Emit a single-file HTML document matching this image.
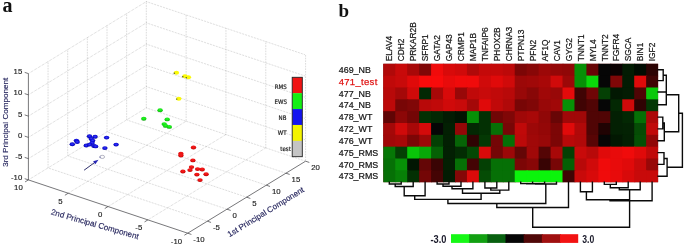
<!DOCTYPE html>
<html lang="en"><head><meta charset="utf-8"><title>Figure</title><style>
html,body{margin:0;padding:0;background:#fff;}
body{width:685px;height:246px;overflow:hidden;}
svg{display:block;}
text{font-family:"Liberation Sans",sans-serif;}
.g{stroke:#989898;stroke-width:0.58;stroke-dasharray:0.6 1.0;fill:none;}
.ax{stroke:#4a4a4e;stroke-width:0.75;fill:none;}
.tl text{font-size:7.8px;fill:#1c1c1c;stroke:#1c1c1c;stroke-width:0.15;}
.al{font-size:8.1px;fill:#26265e;stroke:#26265e;stroke-width:0.15;}
.db{fill:url(#gb);}
.dy{fill:#fafa08;}
.dg{fill:url(#gg);}
.dr{fill:url(#gr);}
.dt{fill:#fdfdfd;stroke:#9a9aac;stroke-width:0.7;}
.arr{stroke:#30306c;stroke-width:1.0;}
.arrh{fill:#2626b4;}
.lg{font-family:"DejaVu Sans Condensed","DejaVu Sans","Liberation Sans",sans-serif;font-stretch:condensed;font-size:6.1px;fill:#222;stroke:#222;stroke-width:0.18;}
.pl{font-family:"Liberation Serif",serif;font-weight:bold;font-size:19px;fill:#111;}
.cl{font-size:8.4px;fill:#161616;stroke:#161616;stroke-width:0.22;}
.rl{font-size:8.9px;fill:#161616;stroke:#161616;stroke-width:0.22;}
.rt{font-size:9.5px;letter-spacing:0.31px;fill:#e01414;stroke:#e01414;stroke-width:0.25;}
.den{stroke:#0a0a0a;stroke-width:1.4;fill:none;stroke-linecap:square;}
.sl{font-size:10.6px;font-weight:bold;fill:#1a1a2a;}
</style></head><body>
<svg width="685" height="246" viewBox="0 0 685 246">
<rect width="685" height="246" fill="#fff"/>
<defs><radialGradient id="gb" cx="0.5" cy="0.45" r="0.6"><stop offset="0" stop-color="#3a3af4"/><stop offset="0.55" stop-color="#1010e0"/><stop offset="1" stop-color="#000088"/></radialGradient><radialGradient id="gr" cx="0.5" cy="0.35" r="0.7"><stop offset="0" stop-color="#f42020"/><stop offset="0.6" stop-color="#e60c0c"/><stop offset="1" stop-color="#9c0606"/></radialGradient><radialGradient id="gg" cx="0.5" cy="0.35" r="0.7"><stop offset="0" stop-color="#2cf42c"/><stop offset="0.6" stop-color="#10e010"/><stop offset="1" stop-color="#0a8a0a"/></radialGradient></defs>
<g id="panel-a">
<g class="grid">
<line x1="48.05" y1="167.90" x2="48.05" y2="61.60" class="g"/>
<line x1="67.70" y1="155.90" x2="67.70" y2="49.60" class="g"/>
<line x1="87.35" y1="143.90" x2="87.35" y2="37.60" class="g"/>
<line x1="107.00" y1="131.90" x2="107.00" y2="25.60" class="g"/>
<line x1="126.65" y1="119.90" x2="126.65" y2="13.60" class="g"/>
<line x1="146.30" y1="107.90" x2="146.30" y2="1.60" class="g"/>
<line x1="28.40" y1="179.90" x2="146.30" y2="107.90" class="g"/>
<line x1="28.40" y1="158.64" x2="146.30" y2="86.64" class="g"/>
<line x1="28.40" y1="137.38" x2="146.30" y2="65.38" class="g"/>
<line x1="28.40" y1="116.12" x2="146.30" y2="44.12" class="g"/>
<line x1="28.40" y1="94.86" x2="146.30" y2="22.86" class="g"/>
<line x1="28.40" y1="73.60" x2="146.30" y2="1.60" class="g"/>
<line x1="186.13" y1="121.22" x2="186.13" y2="14.92" class="g"/>
<line x1="225.95" y1="134.55" x2="225.95" y2="28.25" class="g"/>
<line x1="265.78" y1="147.88" x2="265.78" y2="41.58" class="g"/>
<line x1="305.60" y1="161.20" x2="305.60" y2="54.90" class="g"/>
<line x1="146.30" y1="107.90" x2="305.60" y2="161.20" class="g"/>
<line x1="146.30" y1="86.64" x2="305.60" y2="139.94" class="g"/>
<line x1="146.30" y1="65.38" x2="305.60" y2="118.68" class="g"/>
<line x1="146.30" y1="44.12" x2="305.60" y2="97.42" class="g"/>
<line x1="146.30" y1="22.86" x2="305.60" y2="76.16" class="g"/>
<line x1="146.30" y1="1.60" x2="305.60" y2="54.90" class="g"/>
<line x1="207.35" y1="221.20" x2="48.05" y2="167.90" class="g"/>
<line x1="227.00" y1="209.20" x2="67.70" y2="155.90" class="g"/>
<line x1="246.65" y1="197.20" x2="87.35" y2="143.90" class="g"/>
<line x1="266.30" y1="185.20" x2="107.00" y2="131.90" class="g"/>
<line x1="285.95" y1="173.20" x2="126.65" y2="119.90" class="g"/>
<line x1="68.22" y1="193.22" x2="186.13" y2="121.22" class="g"/>
<line x1="108.05" y1="206.55" x2="225.95" y2="134.55" class="g"/>
<line x1="147.88" y1="219.88" x2="265.78" y2="147.88" class="g"/>
</g>
<g class="axes">
<line x1="28.40" y1="179.90" x2="28.40" y2="73.60" class="ax"/>
<line x1="28.40" y1="179.90" x2="187.70" y2="233.20" class="ax"/>
<line x1="187.70" y1="233.20" x2="305.60" y2="161.20" class="ax"/>
<line x1="28.40" y1="179.90" x2="24.70" y2="178.66" class="ax"/>
<line x1="28.40" y1="158.64" x2="24.70" y2="157.40" class="ax"/>
<line x1="28.40" y1="137.38" x2="24.70" y2="136.14" class="ax"/>
<line x1="28.40" y1="116.12" x2="24.70" y2="114.88" class="ax"/>
<line x1="28.40" y1="94.86" x2="24.70" y2="93.62" class="ax"/>
<line x1="28.40" y1="73.60" x2="24.70" y2="72.36" class="ax"/>
<line x1="28.40" y1="179.90" x2="25.07" y2="181.93" class="ax"/>
<line x1="68.22" y1="193.22" x2="64.90" y2="195.26" class="ax"/>
<line x1="108.05" y1="206.55" x2="104.72" y2="208.58" class="ax"/>
<line x1="147.88" y1="219.88" x2="144.55" y2="221.91" class="ax"/>
<line x1="187.70" y1="233.20" x2="184.37" y2="235.23" class="ax"/>
<line x1="187.70" y1="233.20" x2="191.40" y2="234.44" class="ax"/>
<line x1="207.35" y1="221.20" x2="211.05" y2="222.44" class="ax"/>
<line x1="227.00" y1="209.20" x2="230.70" y2="210.44" class="ax"/>
<line x1="246.65" y1="197.20" x2="250.35" y2="198.44" class="ax"/>
<line x1="266.30" y1="185.20" x2="270.00" y2="186.44" class="ax"/>
<line x1="285.95" y1="173.20" x2="289.65" y2="174.44" class="ax"/>
<line x1="305.60" y1="161.20" x2="309.30" y2="162.44" class="ax"/>
</g>
<g class="tl">
<text x="22.3" y="180.40" text-anchor="end">-10</text>
<text x="22.3" y="159.14" text-anchor="end">-5</text>
<text x="22.3" y="137.88" text-anchor="end">0</text>
<text x="22.3" y="116.62" text-anchor="end">5</text>
<text x="22.3" y="95.36" text-anchor="end">10</text>
<text x="22.3" y="74.10" text-anchor="end">15</text>
<text x="22.80" y="190.30" text-anchor="end">10</text>
<text x="62.62" y="203.62" text-anchor="end">5</text>
<text x="102.45" y="216.95" text-anchor="end">0</text>
<text x="142.28" y="230.28" text-anchor="end">-5</text>
<text x="182.10" y="243.60" text-anchor="end">-10</text>
<text x="193.30" y="242.20" text-anchor="start">-10</text>
<text x="212.95" y="230.20" text-anchor="start">-5</text>
<text x="232.60" y="218.20" text-anchor="start">0</text>
<text x="252.25" y="206.20" text-anchor="start">5</text>
<text x="271.90" y="194.20" text-anchor="start">10</text>
<text x="291.55" y="182.20" text-anchor="start">15</text>
<text x="311.20" y="170.20" text-anchor="start">20</text>
</g>
<text class="al" transform="translate(8.0,122.3) rotate(-90)" text-anchor="middle">3rd Principal Component</text>
<text class="al" transform="translate(94.2,226.8) rotate(15.9)" text-anchor="middle">2nd Principal Component</text>
<text class="al" transform="translate(267.2,214.3) rotate(-31.5)" text-anchor="middle">1st Principal Component</text>
<ellipse cx="72.3" cy="144.3" rx="2.7" ry="1.95" class="db"/>
<ellipse cx="76.4" cy="140.6" rx="2.7" ry="1.95" class="db"/>
<ellipse cx="77.2" cy="142.0" rx="2.7" ry="1.95" class="db"/>
<ellipse cx="89.5" cy="136.2" rx="2.7" ry="1.95" class="db"/>
<ellipse cx="95.1" cy="136.7" rx="2.7" ry="1.95" class="db"/>
<ellipse cx="91.2" cy="138.8" rx="2.7" ry="1.95" class="db"/>
<ellipse cx="92.6" cy="140.6" rx="2.7" ry="1.95" class="db"/>
<ellipse cx="92.1" cy="142.9" rx="2.7" ry="1.95" class="db"/>
<ellipse cx="86.3" cy="145.5" rx="2.7" ry="1.95" class="db"/>
<ellipse cx="89.5" cy="144.6" rx="2.7" ry="1.95" class="db"/>
<ellipse cx="93.9" cy="146.0" rx="2.7" ry="1.95" class="db"/>
<ellipse cx="95.6" cy="146.4" rx="2.7" ry="1.95" class="db"/>
<ellipse cx="106.6" cy="137.6" rx="2.7" ry="1.95" class="db"/>
<ellipse cx="104.9" cy="148.1" rx="2.7" ry="1.95" class="db"/>
<ellipse cx="116.1" cy="144.6" rx="2.7" ry="1.95" class="db"/>
<ellipse cx="176.4" cy="72.8" rx="2.7" ry="1.95" class="dy"/>
<ellipse cx="174.3" cy="73.2" rx="0.8" ry="0.7" fill="#5a5a30"/>
<ellipse cx="184.9" cy="76.3" rx="2.7" ry="1.95" class="dy"/>
<ellipse cx="182.8" cy="76.7" rx="0.8" ry="0.7" fill="#5a5a30"/>
<ellipse cx="188.4" cy="77.3" rx="2.7" ry="1.95" class="dy"/>
<ellipse cx="186.3" cy="77.7" rx="0.8" ry="0.7" fill="#5a5a30"/>
<ellipse cx="178.8" cy="98.7" rx="2.7" ry="1.95" class="dy"/>
<ellipse cx="176.7" cy="99.1" rx="0.8" ry="0.7" fill="#5a5a30"/>
<ellipse cx="160.1" cy="110.3" rx="2.7" ry="1.95" class="dg"/>
<ellipse cx="143.8" cy="118.8" rx="2.7" ry="1.95" class="dg"/>
<ellipse cx="167.2" cy="119.4" rx="2.7" ry="1.95" class="dg"/>
<ellipse cx="164.2" cy="124.1" rx="2.7" ry="1.95" class="dg"/>
<ellipse cx="165.6" cy="125.9" rx="2.7" ry="1.95" class="dg"/>
<ellipse cx="169.3" cy="126.9" rx="2.7" ry="1.95" class="dg"/>
<ellipse cx="193.5" cy="147.5" rx="2.7" ry="1.95" class="dr"/>
<ellipse cx="180.9" cy="153.8" rx="2.7" ry="1.95" class="dr"/>
<ellipse cx="180.9" cy="155.5" rx="2.7" ry="1.95" class="dr"/>
<ellipse cx="192.9" cy="160.4" rx="2.7" ry="1.95" class="dr"/>
<ellipse cx="191.5" cy="167.1" rx="2.7" ry="1.95" class="dr"/>
<ellipse cx="190.0" cy="170.1" rx="2.7" ry="1.95" class="dr"/>
<ellipse cx="182.9" cy="171.5" rx="2.7" ry="1.95" class="dr"/>
<ellipse cx="197.6" cy="169.1" rx="2.7" ry="1.95" class="dr"/>
<ellipse cx="202.2" cy="169.5" rx="2.7" ry="1.95" class="dr"/>
<ellipse cx="196.9" cy="174.6" rx="2.7" ry="1.95" class="dr"/>
<ellipse cx="206.1" cy="174.2" rx="2.7" ry="1.95" class="dr"/>
<ellipse cx="200.0" cy="180.1" rx="2.7" ry="1.95" class="dr"/>
<ellipse cx="102.2" cy="156.9" rx="2.45" ry="1.6" class="dt"/>
<ellipse cx="100.1" cy="157.1" rx="0.7" ry="0.65" fill="#5c5ca4"/>
<line x1="84.1" y1="170.2" x2="95.0" y2="162.25" class="arr"/>
<polygon points="98.5,159.7 93.1,161.3 95.3,164.3" class="arrh"/>
<rect x="292.20" y="77.30" width="10.10" height="16.08" fill="#f01414"/>
<rect x="292.20" y="93.18" width="10.10" height="16.08" fill="#14f014"/>
<rect x="292.20" y="109.06" width="10.10" height="16.08" fill="#1414f0"/>
<rect x="292.20" y="124.94" width="10.10" height="16.08" fill="#f4f400"/>
<rect x="292.20" y="140.82" width="10.10" height="16.08" fill="#c4c4c4"/>
<rect x="292.20" y="77.30" width="10.10" height="79.40" fill="none" stroke="#222" stroke-width="0.9"/>
<text class="lg" x="280.7" y="88.5" text-anchor="middle">RMS</text>
<text class="lg" x="280.7" y="104.1" text-anchor="middle">EWS</text>
<text class="lg" x="282.5" y="119.8" text-anchor="middle">NB</text>
<text class="lg" x="282.2" y="135.4" text-anchor="middle">WT</text>
<text class="lg" x="285.6" y="150.9" text-anchor="middle">test</text>
<text class="pl" style="font-size:20px" x="2.6" y="12.4">a</text>
</g>
<g id="panel-b">
<text class="pl" x="338.4" y="16.6">b</text>
<rect x="383.30" y="63.80" width="274.80" height="118.40" fill="#600"/>
<rect x="383.30" y="63.80" width="12.95" height="12.84" fill="#b00909"/>
<rect x="395.25" y="63.80" width="12.95" height="12.84" fill="#c80a0a"/>
<rect x="407.20" y="63.80" width="12.95" height="12.84" fill="#a80808"/>
<rect x="419.14" y="63.80" width="12.95" height="12.84" fill="#800707"/>
<rect x="431.09" y="63.80" width="12.95" height="12.84" fill="#f00b0b"/>
<rect x="443.04" y="63.80" width="12.95" height="12.84" fill="#d80a0a"/>
<rect x="454.99" y="63.80" width="12.95" height="12.84" fill="#d00a0a"/>
<rect x="466.93" y="63.80" width="12.95" height="12.84" fill="#b00909"/>
<rect x="478.88" y="63.80" width="12.95" height="12.84" fill="#c40909"/>
<rect x="490.83" y="63.80" width="12.95" height="12.84" fill="#c40909"/>
<rect x="502.78" y="63.80" width="12.95" height="12.84" fill="#bc0909"/>
<rect x="514.73" y="63.80" width="12.95" height="12.84" fill="#7c0606"/>
<rect x="526.67" y="63.80" width="12.95" height="12.84" fill="#880707"/>
<rect x="538.62" y="63.80" width="12.95" height="12.84" fill="#9c0808"/>
<rect x="550.57" y="63.80" width="12.95" height="12.84" fill="#940707"/>
<rect x="562.52" y="63.80" width="12.95" height="12.84" fill="#900707"/>
<rect x="574.47" y="63.80" width="12.95" height="12.84" fill="#079007"/>
<rect x="586.41" y="63.80" width="12.95" height="12.84" fill="#680606"/>
<rect x="598.36" y="63.80" width="12.95" height="12.84" fill="#060606"/>
<rect x="610.31" y="63.80" width="12.95" height="12.84" fill="#0c0202"/>
<rect x="622.26" y="63.80" width="12.95" height="12.84" fill="#031c03"/>
<rect x="634.20" y="63.80" width="12.95" height="12.84" fill="#020c02"/>
<rect x="646.15" y="63.80" width="11.95" height="12.84" fill="#2c0303"/>
<rect x="383.30" y="75.64" width="12.95" height="12.84" fill="#c00909"/>
<rect x="395.25" y="75.64" width="12.95" height="12.84" fill="#c80a0a"/>
<rect x="407.20" y="75.64" width="12.95" height="12.84" fill="#e00a0a"/>
<rect x="419.14" y="75.64" width="12.95" height="12.84" fill="#f80b0b"/>
<rect x="431.09" y="75.64" width="12.95" height="12.84" fill="#f80b0b"/>
<rect x="443.04" y="75.64" width="12.95" height="12.84" fill="#e80b0b"/>
<rect x="454.99" y="75.64" width="12.95" height="12.84" fill="#f00b0b"/>
<rect x="466.93" y="75.64" width="12.95" height="12.84" fill="#f00b0b"/>
<rect x="478.88" y="75.64" width="12.95" height="12.84" fill="#d00a0a"/>
<rect x="490.83" y="75.64" width="12.95" height="12.84" fill="#e00a0a"/>
<rect x="502.78" y="75.64" width="12.95" height="12.84" fill="#d00a0a"/>
<rect x="514.73" y="75.64" width="12.95" height="12.84" fill="#9c0808"/>
<rect x="526.67" y="75.64" width="12.95" height="12.84" fill="#a00808"/>
<rect x="538.62" y="75.64" width="12.95" height="12.84" fill="#a80808"/>
<rect x="550.57" y="75.64" width="12.95" height="12.84" fill="#d00a0a"/>
<rect x="562.52" y="75.64" width="12.95" height="12.84" fill="#9c0808"/>
<rect x="574.47" y="75.64" width="12.95" height="12.84" fill="#079007"/>
<rect x="586.41" y="75.64" width="12.95" height="12.84" fill="#0ad80a"/>
<rect x="598.36" y="75.64" width="12.95" height="12.84" fill="#060606"/>
<rect x="610.31" y="75.64" width="12.95" height="12.84" fill="#800707"/>
<rect x="622.26" y="75.64" width="12.95" height="12.84" fill="#031c03"/>
<rect x="634.20" y="75.64" width="12.95" height="12.84" fill="#e00a0a"/>
<rect x="646.15" y="75.64" width="11.95" height="12.84" fill="#400404"/>
<rect x="383.30" y="87.48" width="12.95" height="12.84" fill="#b80909"/>
<rect x="395.25" y="87.48" width="12.95" height="12.84" fill="#a40808"/>
<rect x="407.20" y="87.48" width="12.95" height="12.84" fill="#d00a0a"/>
<rect x="419.14" y="87.48" width="12.95" height="12.84" fill="#032803"/>
<rect x="431.09" y="87.48" width="12.95" height="12.84" fill="#a80808"/>
<rect x="443.04" y="87.48" width="12.95" height="12.84" fill="#d80a0a"/>
<rect x="454.99" y="87.48" width="12.95" height="12.84" fill="#980808"/>
<rect x="466.93" y="87.48" width="12.95" height="12.84" fill="#c00909"/>
<rect x="478.88" y="87.48" width="12.95" height="12.84" fill="#c80a0a"/>
<rect x="490.83" y="87.48" width="12.95" height="12.84" fill="#c00909"/>
<rect x="502.78" y="87.48" width="12.95" height="12.84" fill="#b80909"/>
<rect x="514.73" y="87.48" width="12.95" height="12.84" fill="#980808"/>
<rect x="526.67" y="87.48" width="12.95" height="12.84" fill="#880707"/>
<rect x="538.62" y="87.48" width="12.95" height="12.84" fill="#a00808"/>
<rect x="550.57" y="87.48" width="12.95" height="12.84" fill="#980808"/>
<rect x="562.52" y="87.48" width="12.95" height="12.84" fill="#e40b0b"/>
<rect x="574.47" y="87.48" width="12.95" height="12.84" fill="#400404"/>
<rect x="586.41" y="87.48" width="12.95" height="12.84" fill="#700606"/>
<rect x="598.36" y="87.48" width="12.95" height="12.84" fill="#044004"/>
<rect x="610.31" y="87.48" width="12.95" height="12.84" fill="#021802"/>
<rect x="622.26" y="87.48" width="12.95" height="12.84" fill="#031c03"/>
<rect x="634.20" y="87.48" width="12.95" height="12.84" fill="#500505"/>
<rect x="646.15" y="87.48" width="11.95" height="12.84" fill="#0ac80a"/>
<rect x="383.30" y="99.32" width="12.95" height="12.84" fill="#bc0909"/>
<rect x="395.25" y="99.32" width="12.95" height="12.84" fill="#780606"/>
<rect x="407.20" y="99.32" width="12.95" height="12.84" fill="#800707"/>
<rect x="419.14" y="99.32" width="12.95" height="12.84" fill="#b80909"/>
<rect x="431.09" y="99.32" width="12.95" height="12.84" fill="#c00909"/>
<rect x="443.04" y="99.32" width="12.95" height="12.84" fill="#d00a0a"/>
<rect x="454.99" y="99.32" width="12.95" height="12.84" fill="#c80a0a"/>
<rect x="466.93" y="99.32" width="12.95" height="12.84" fill="#a40808"/>
<rect x="478.88" y="99.32" width="12.95" height="12.84" fill="#e00a0a"/>
<rect x="490.83" y="99.32" width="12.95" height="12.84" fill="#c00909"/>
<rect x="502.78" y="99.32" width="12.95" height="12.84" fill="#b00909"/>
<rect x="514.73" y="99.32" width="12.95" height="12.84" fill="#780606"/>
<rect x="526.67" y="99.32" width="12.95" height="12.84" fill="#800707"/>
<rect x="538.62" y="99.32" width="12.95" height="12.84" fill="#980808"/>
<rect x="550.57" y="99.32" width="12.95" height="12.84" fill="#a00808"/>
<rect x="562.52" y="99.32" width="12.95" height="12.84" fill="#079007"/>
<rect x="574.47" y="99.32" width="12.95" height="12.84" fill="#400404"/>
<rect x="586.41" y="99.32" width="12.95" height="12.84" fill="#500505"/>
<rect x="598.36" y="99.32" width="12.95" height="12.84" fill="#060606"/>
<rect x="610.31" y="99.32" width="12.95" height="12.84" fill="#032803"/>
<rect x="622.26" y="99.32" width="12.95" height="12.84" fill="#d00a0a"/>
<rect x="634.20" y="99.32" width="12.95" height="12.84" fill="#300303"/>
<rect x="646.15" y="99.32" width="11.95" height="12.84" fill="#043804"/>
<rect x="383.30" y="111.16" width="12.95" height="12.84" fill="#600505"/>
<rect x="395.25" y="111.16" width="12.95" height="12.84" fill="#8c0707"/>
<rect x="407.20" y="111.16" width="12.95" height="12.84" fill="#740606"/>
<rect x="419.14" y="111.16" width="12.95" height="12.84" fill="#033003"/>
<rect x="431.09" y="111.16" width="12.95" height="12.84" fill="#032803"/>
<rect x="443.04" y="111.16" width="12.95" height="12.84" fill="#031c03"/>
<rect x="454.99" y="111.16" width="12.95" height="12.84" fill="#021402"/>
<rect x="466.93" y="111.16" width="12.95" height="12.84" fill="#079007"/>
<rect x="478.88" y="111.16" width="12.95" height="12.84" fill="#033003"/>
<rect x="490.83" y="111.16" width="12.95" height="12.84" fill="#700606"/>
<rect x="502.78" y="111.16" width="12.95" height="12.84" fill="#800707"/>
<rect x="514.73" y="111.16" width="12.95" height="12.84" fill="#a00808"/>
<rect x="526.67" y="111.16" width="12.95" height="12.84" fill="#a80808"/>
<rect x="538.62" y="111.16" width="12.95" height="12.84" fill="#900707"/>
<rect x="550.57" y="111.16" width="12.95" height="12.84" fill="#680606"/>
<rect x="562.52" y="111.16" width="12.95" height="12.84" fill="#a00808"/>
<rect x="574.47" y="111.16" width="12.95" height="12.84" fill="#a00808"/>
<rect x="586.41" y="111.16" width="12.95" height="12.84" fill="#500505"/>
<rect x="598.36" y="111.16" width="12.95" height="12.84" fill="#500505"/>
<rect x="610.31" y="111.16" width="12.95" height="12.84" fill="#032003"/>
<rect x="622.26" y="111.16" width="12.95" height="12.84" fill="#032803"/>
<rect x="634.20" y="111.16" width="12.95" height="12.84" fill="#067006"/>
<rect x="646.15" y="111.16" width="11.95" height="12.84" fill="#ac0808"/>
<rect x="383.30" y="123.00" width="12.95" height="12.84" fill="#a40808"/>
<rect x="395.25" y="123.00" width="12.95" height="12.84" fill="#d00a0a"/>
<rect x="407.20" y="123.00" width="12.95" height="12.84" fill="#a80808"/>
<rect x="419.14" y="123.00" width="12.95" height="12.84" fill="#d40a0a"/>
<rect x="431.09" y="123.00" width="12.95" height="12.84" fill="#060606"/>
<rect x="443.04" y="123.00" width="12.95" height="12.84" fill="#032003"/>
<rect x="454.99" y="123.00" width="12.95" height="12.84" fill="#940707"/>
<rect x="466.93" y="123.00" width="12.95" height="12.84" fill="#032803"/>
<rect x="478.88" y="123.00" width="12.95" height="12.84" fill="#033003"/>
<rect x="490.83" y="123.00" width="12.95" height="12.84" fill="#067006"/>
<rect x="502.78" y="123.00" width="12.95" height="12.84" fill="#780606"/>
<rect x="514.73" y="123.00" width="12.95" height="12.84" fill="#c00909"/>
<rect x="526.67" y="123.00" width="12.95" height="12.84" fill="#9c0808"/>
<rect x="538.62" y="123.00" width="12.95" height="12.84" fill="#940707"/>
<rect x="550.57" y="123.00" width="12.95" height="12.84" fill="#7c0606"/>
<rect x="562.52" y="123.00" width="12.95" height="12.84" fill="#e00a0a"/>
<rect x="574.47" y="123.00" width="12.95" height="12.84" fill="#b00909"/>
<rect x="586.41" y="123.00" width="12.95" height="12.84" fill="#500505"/>
<rect x="598.36" y="123.00" width="12.95" height="12.84" fill="#200303"/>
<rect x="610.31" y="123.00" width="12.95" height="12.84" fill="#032003"/>
<rect x="622.26" y="123.00" width="12.95" height="12.84" fill="#032203"/>
<rect x="634.20" y="123.00" width="12.95" height="12.84" fill="#054c05"/>
<rect x="646.15" y="123.00" width="11.95" height="12.84" fill="#c00909"/>
<rect x="383.30" y="134.84" width="12.95" height="12.84" fill="#a00808"/>
<rect x="395.25" y="134.84" width="12.95" height="12.84" fill="#a80808"/>
<rect x="407.20" y="134.84" width="12.95" height="12.84" fill="#7c0606"/>
<rect x="419.14" y="134.84" width="12.95" height="12.84" fill="#9c0808"/>
<rect x="431.09" y="134.84" width="12.95" height="12.84" fill="#044004"/>
<rect x="443.04" y="134.84" width="12.95" height="12.84" fill="#032003"/>
<rect x="454.99" y="134.84" width="12.95" height="12.84" fill="#066406"/>
<rect x="466.93" y="134.84" width="12.95" height="12.84" fill="#300303"/>
<rect x="478.88" y="134.84" width="12.95" height="12.84" fill="#043804"/>
<rect x="490.83" y="134.84" width="12.95" height="12.84" fill="#740606"/>
<rect x="502.78" y="134.84" width="12.95" height="12.84" fill="#067006"/>
<rect x="514.73" y="134.84" width="12.95" height="12.84" fill="#bc0909"/>
<rect x="526.67" y="134.84" width="12.95" height="12.84" fill="#a00808"/>
<rect x="538.62" y="134.84" width="12.95" height="12.84" fill="#980808"/>
<rect x="550.57" y="134.84" width="12.95" height="12.84" fill="#7c0606"/>
<rect x="562.52" y="134.84" width="12.95" height="12.84" fill="#b80909"/>
<rect x="574.47" y="134.84" width="12.95" height="12.84" fill="#b00909"/>
<rect x="586.41" y="134.84" width="12.95" height="12.84" fill="#580505"/>
<rect x="598.36" y="134.84" width="12.95" height="12.84" fill="#060606"/>
<rect x="610.31" y="134.84" width="12.95" height="12.84" fill="#021802"/>
<rect x="622.26" y="134.84" width="12.95" height="12.84" fill="#032003"/>
<rect x="634.20" y="134.84" width="12.95" height="12.84" fill="#055005"/>
<rect x="646.15" y="134.84" width="11.95" height="12.84" fill="#900707"/>
<rect x="383.30" y="146.68" width="12.95" height="12.84" fill="#067806"/>
<rect x="395.25" y="146.68" width="12.95" height="12.84" fill="#044004"/>
<rect x="407.20" y="146.68" width="12.95" height="12.84" fill="#09c409"/>
<rect x="419.14" y="146.68" width="12.95" height="12.84" fill="#08a808"/>
<rect x="431.09" y="146.68" width="12.95" height="12.84" fill="#056005"/>
<rect x="443.04" y="146.68" width="12.95" height="12.84" fill="#032003"/>
<rect x="454.99" y="146.68" width="12.95" height="12.84" fill="#032c03"/>
<rect x="466.93" y="146.68" width="12.95" height="12.84" fill="#044804"/>
<rect x="478.88" y="146.68" width="12.95" height="12.84" fill="#d80a0a"/>
<rect x="490.83" y="146.68" width="12.95" height="12.84" fill="#740606"/>
<rect x="502.78" y="146.68" width="12.95" height="12.84" fill="#9c0808"/>
<rect x="514.73" y="146.68" width="12.95" height="12.84" fill="#640606"/>
<rect x="526.67" y="146.68" width="12.95" height="12.84" fill="#a00808"/>
<rect x="538.62" y="146.68" width="12.95" height="12.84" fill="#540505"/>
<rect x="550.57" y="146.68" width="12.95" height="12.84" fill="#a80808"/>
<rect x="562.52" y="146.68" width="12.95" height="12.84" fill="#044004"/>
<rect x="574.47" y="146.68" width="12.95" height="12.84" fill="#c80a0a"/>
<rect x="586.41" y="146.68" width="12.95" height="12.84" fill="#b80909"/>
<rect x="598.36" y="146.68" width="12.95" height="12.84" fill="#e00a0a"/>
<rect x="610.31" y="146.68" width="12.95" height="12.84" fill="#e80b0b"/>
<rect x="622.26" y="146.68" width="12.95" height="12.84" fill="#f00b0b"/>
<rect x="634.20" y="146.68" width="12.95" height="12.84" fill="#e00a0a"/>
<rect x="646.15" y="146.68" width="11.95" height="12.84" fill="#c00909"/>
<rect x="383.30" y="158.52" width="12.95" height="12.84" fill="#067006"/>
<rect x="395.25" y="158.52" width="12.95" height="12.84" fill="#079007"/>
<rect x="407.20" y="158.52" width="12.95" height="12.84" fill="#021602"/>
<rect x="419.14" y="158.52" width="12.95" height="12.84" fill="#640606"/>
<rect x="431.09" y="158.52" width="12.95" height="12.84" fill="#3a0404"/>
<rect x="443.04" y="158.52" width="12.95" height="12.84" fill="#032003"/>
<rect x="454.99" y="158.52" width="12.95" height="12.84" fill="#067006"/>
<rect x="466.93" y="158.52" width="12.95" height="12.84" fill="#440404"/>
<rect x="478.88" y="158.52" width="12.95" height="12.84" fill="#044004"/>
<rect x="490.83" y="158.52" width="12.95" height="12.84" fill="#067006"/>
<rect x="502.78" y="158.52" width="12.95" height="12.84" fill="#067006"/>
<rect x="514.73" y="158.52" width="12.95" height="12.84" fill="#7c0606"/>
<rect x="526.67" y="158.52" width="12.95" height="12.84" fill="#880707"/>
<rect x="538.62" y="158.52" width="12.95" height="12.84" fill="#380404"/>
<rect x="550.57" y="158.52" width="12.95" height="12.84" fill="#780606"/>
<rect x="562.52" y="158.52" width="12.95" height="12.84" fill="#056005"/>
<rect x="574.47" y="158.52" width="12.95" height="12.84" fill="#b80909"/>
<rect x="586.41" y="158.52" width="12.95" height="12.84" fill="#d00a0a"/>
<rect x="598.36" y="158.52" width="12.95" height="12.84" fill="#f00b0b"/>
<rect x="610.31" y="158.52" width="12.95" height="12.84" fill="#e80b0b"/>
<rect x="622.26" y="158.52" width="12.95" height="12.84" fill="#e00a0a"/>
<rect x="634.20" y="158.52" width="12.95" height="12.84" fill="#c80a0a"/>
<rect x="646.15" y="158.52" width="11.95" height="12.84" fill="#980808"/>
<rect x="383.30" y="170.36" width="12.95" height="11.84" fill="#067006"/>
<rect x="395.25" y="170.36" width="12.95" height="11.84" fill="#078007"/>
<rect x="407.20" y="170.36" width="12.95" height="11.84" fill="#033003"/>
<rect x="419.14" y="170.36" width="12.95" height="11.84" fill="#740606"/>
<rect x="431.09" y="170.36" width="12.95" height="11.84" fill="#440404"/>
<rect x="443.04" y="170.36" width="12.95" height="11.84" fill="#031c03"/>
<rect x="454.99" y="170.36" width="12.95" height="11.84" fill="#840707"/>
<rect x="466.93" y="170.36" width="12.95" height="11.84" fill="#dc0a0a"/>
<rect x="478.88" y="170.36" width="12.95" height="11.84" fill="#054c05"/>
<rect x="490.83" y="170.36" width="12.95" height="11.84" fill="#067006"/>
<rect x="502.78" y="170.36" width="12.95" height="11.84" fill="#067006"/>
<rect x="514.73" y="170.36" width="12.95" height="11.84" fill="#0bf40b"/>
<rect x="526.67" y="170.36" width="12.95" height="11.84" fill="#0bf40b"/>
<rect x="538.62" y="170.36" width="12.95" height="11.84" fill="#0bf40b"/>
<rect x="550.57" y="170.36" width="12.95" height="11.84" fill="#0bf40b"/>
<rect x="562.52" y="170.36" width="12.95" height="11.84" fill="#400404"/>
<rect x="574.47" y="170.36" width="12.95" height="11.84" fill="#c80a0a"/>
<rect x="586.41" y="170.36" width="12.95" height="11.84" fill="#d80a0a"/>
<rect x="598.36" y="170.36" width="12.95" height="11.84" fill="#f00b0b"/>
<rect x="610.31" y="170.36" width="12.95" height="11.84" fill="#e80b0b"/>
<rect x="622.26" y="170.36" width="12.95" height="11.84" fill="#d80a0a"/>
<rect x="634.20" y="170.36" width="12.95" height="11.84" fill="#c80a0a"/>
<rect x="646.15" y="170.36" width="11.95" height="11.84" fill="#c80a0a"/>
<text class="cl" transform="translate(392.47,61.3) rotate(-90)">ELAV4</text>
<text class="cl" transform="translate(404.42,61.3) rotate(-90)">CDH2</text>
<text class="cl" transform="translate(416.37,61.3) rotate(-90)">PRKAR2B</text>
<text class="cl" transform="translate(428.32,61.3) rotate(-90)">SFRP1</text>
<text class="cl" transform="translate(440.27,61.3) rotate(-90)">GATA2</text>
<text class="cl" transform="translate(452.21,61.3) rotate(-90)">GAP43</text>
<text class="cl" transform="translate(464.16,61.3) rotate(-90)">CRMP1</text>
<text class="cl" transform="translate(476.11,61.3) rotate(-90)">MAP1B</text>
<text class="cl" transform="translate(488.06,61.3) rotate(-90)">TNFAIP6</text>
<text class="cl" transform="translate(500.00,61.3) rotate(-90)">PHOX2B</text>
<text class="cl" transform="translate(511.95,61.3) rotate(-90)">CHRNA3</text>
<text class="cl" transform="translate(523.90,61.3) rotate(-90)">PTPN13</text>
<text class="cl" transform="translate(535.85,61.3) rotate(-90)">PFN2</text>
<text class="cl" transform="translate(547.80,61.3) rotate(-90)">AF1Q</text>
<text class="cl" transform="translate(559.74,61.3) rotate(-90)">CAV1</text>
<text class="cl" transform="translate(571.69,61.3) rotate(-90)">GYG2</text>
<text class="cl" transform="translate(583.64,61.3) rotate(-90)">TNNT1</text>
<text class="cl" transform="translate(595.59,61.3) rotate(-90)">MYL4</text>
<text class="cl" transform="translate(607.53,61.3) rotate(-90)">TNNT2</text>
<text class="cl" transform="translate(619.48,61.3) rotate(-90)">FGFR4</text>
<text class="cl" transform="translate(631.43,61.3) rotate(-90)">SGCA</text>
<text class="cl" transform="translate(643.38,61.3) rotate(-90)">BIN1</text>
<text class="cl" transform="translate(655.33,61.3) rotate(-90)">IGF2</text>
<text class="rl" x="338.8" y="72.92">469_NB</text>
<text class="rl rt" x="338.7" y="85.26">471_test</text>
<text class="rl" x="338.8" y="96.60">477_NB</text>
<text class="rl" x="338.8" y="108.44">474_NB</text>
<text class="rl" x="338.8" y="120.28">478_WT</text>
<text class="rl" x="338.8" y="132.12">472_WT</text>
<text class="rl" x="338.8" y="143.96">476_WT</text>
<text class="rl" x="338.8" y="155.80">475_RMS</text>
<text class="rl" x="338.8" y="167.64">470_RMS</text>
<text class="rl" x="338.8" y="179.48">473_RMS</text>
<path d="M389.3 182.2L389.3 184.0M401.2 182.2L401.2 184.0M389.3 184.0L401.2 184.0M395.2 184.0L395.2 186.5M413.2 182.2L413.2 186.5M395.2 186.5L413.2 186.5M404.2 186.5L404.2 195.8M425.1 182.2L425.1 195.8M404.2 195.8L425.1 195.8M437.1 182.2L437.1 184.0M449.0 182.2L449.0 184.0M437.1 184.0L449.0 184.0M443.0 184.0L443.0 186.3M461.0 182.2L461.0 186.3M443.0 186.3L461.0 186.3M452.0 186.3L452.0 188.7M472.9 182.2L472.9 188.7M452.0 188.7L472.9 188.7M484.9 182.2L484.9 188.0M496.8 182.2L496.8 188.0M484.9 188.0L496.8 188.0M490.8 188.0L490.8 190.1M508.8 182.2L508.8 190.1M490.8 190.1L508.8 190.1M462.5 188.7L462.5 193.2M499.8 190.1L499.8 193.2M462.5 193.2L499.8 193.2M414.7 195.8L414.7 199.4M481.1 193.2L481.1 199.4M414.7 199.4L481.1 199.4M520.7 182.2L520.7 183.6M532.6 182.2L532.6 183.6M520.7 183.6L532.6 183.6M526.7 183.6L526.7 183.8M544.6 182.2L544.6 183.8M526.7 183.8L544.6 183.8M535.6 183.8L535.6 184.0M556.5 182.2L556.5 184.0M535.6 184.0L556.5 184.0M447.9 199.4L447.9 203.5M545.8 184.0L545.8 203.5M447.9 203.5L545.8 203.5M496.8 203.5L496.8 207.5M568.5 182.2L568.5 207.5M496.8 207.5L568.5 207.5M580.4 182.2L580.4 191.8M592.4 182.2L592.4 191.8M580.4 191.8L592.4 191.8M604.3 182.2L604.3 184.4M616.3 182.2L616.3 184.4M604.3 184.4L616.3 184.4M610.3 184.4L610.3 187.7M628.2 182.2L628.2 187.7M610.3 187.7L628.2 187.7M619.3 187.7L619.3 189.7M640.2 182.2L640.2 189.7M619.3 189.7L640.2 189.7M586.4 191.8L586.4 199.8M586.4 199.8L629.6 199.8M652.1 182.2L652.1 200.8M610.0 200.8L652.1 200.8M629.6 189.7L629.6 227.2M532.7 207.5L532.7 227.2M532.7 227.2L629.6 227.2M658.1 69.7L663.2 69.7M658.1 80.6L663.2 80.6M663.2 69.7L663.2 80.6M658.1 92.0L666.3 92.0M658.1 104.7L666.3 104.7M666.3 92.0L666.3 104.7M663.2 75.2L666.3 75.2M666.3 98.3L666.3 98.3M666.3 75.2L666.3 98.3M658.1 117.1L662.8 117.1M658.1 128.9L662.8 128.9M662.8 117.1L662.8 128.9M662.8 123.0L664.3 123.0M658.1 140.8L664.3 140.8M664.3 123.0L664.3 140.8M666.3 94.8L678.7 94.8M664.3 131.8L678.7 131.8M678.7 94.8L678.7 131.8M658.1 152.6L664.0 152.6M658.1 164.4L664.0 164.4M664.0 152.6L664.0 164.4M664.0 158.5L667.1 158.5M658.1 176.3L667.1 176.3M667.1 158.5L667.1 176.3M667.1 167.3L682.4 167.3M678.7 113.2L682.4 113.2M682.4 113.2L682.4 167.3" class="den"/>
<rect x="451.00" y="234.2" width="19.17" height="8.7" fill="#16f816"/>
<rect x="469.17" y="234.2" width="19.17" height="8.7" fill="#12a012"/>
<rect x="487.34" y="234.2" width="19.17" height="8.7" fill="#086010"/>
<rect x="505.51" y="234.2" width="19.17" height="8.7" fill="#060606"/>
<rect x="523.69" y="234.2" width="19.17" height="8.7" fill="#500808"/>
<rect x="541.86" y="234.2" width="19.17" height="8.7" fill="#a01010"/>
<rect x="560.03" y="234.2" width="18.17" height="8.7" fill="#f21212"/>
<text class="sl" x="446.5" y="242.6" text-anchor="end" textLength="16" lengthAdjust="spacingAndGlyphs">-3.0</text>
<text class="sl" x="582.3" y="242.6" textLength="12" lengthAdjust="spacingAndGlyphs">3.0</text>
</g>
</svg>
</body></html>
